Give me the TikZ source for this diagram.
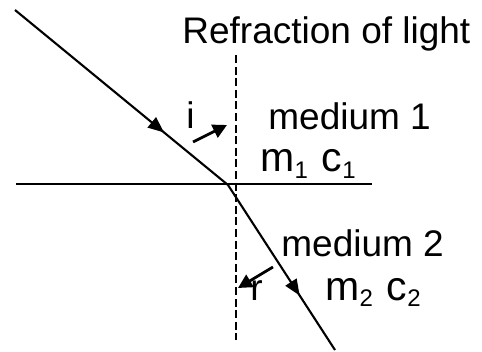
\documentclass[tikz,border=0pt]{standalone}
\usepackage{fontspec}
\setmainfont{Liberation Sans}
\usetikzlibrary{arrows.meta,decorations.markings}

\newcommand{\lowsub}[1]{\raisebox{-0.3ex}{\fontsize{12}{14}\selectfont #1}}

\tikzset{
  ray/.style={line width=1.05pt},
  midarrow/.style={postaction={decorate},
    decoration={markings,mark=at position #1 with {\arrow{Triangle[length=8pt,width=6.5pt]}}}},
  anglearrow/.style={line width=1.4pt,-{Triangle[length=7pt,width=7pt]}},
  txt/.style={anchor=base west,inner sep=0pt,font=\fontsize{18.5}{22}\selectfont},
  props/.style={txt,font=\fontsize{20.5}{24}\selectfont}
}

\begin{document}
\begin{tikzpicture}[x=0.5pt,y=-0.5pt]
    \useasboundingbox (0,0) rectangle (482,352);

    % Title
    \node[txt] (title) at (182,44) {Refraction of light};

    % Boundary between the two media and the normal
    \coordinate (faceL) at (16,184);
    \coordinate (faceR) at (372,184);
    \coordinate (normTop) at (236,55);
    \coordinate (normBot) at (236,340);
    \draw[line width=1.05pt] (faceL) -- (faceR);
    \draw[line width=0.9pt, dash pattern=on 4pt off 1.8pt] (normTop) -- (normBot);

    % Incident and refracted rays
    \coordinate (source) at (15,10);
    \coordinate (hit) at (228,185);
    \coordinate (target) at (335,350);
    \draw[ray, midarrow=0.70] (source) -- (hit);
    \draw[ray, midarrow=0.67] (hit) -- (target);

    % Angle markers
    \coordinate (iFrom) at (193,142);
    \coordinate (iTo) at (227,125);
    \coordinate (rFrom) at (273,267);
    \coordinate (rTo) at (238,288);
    \draw[anglearrow] (iFrom) -- (iTo);
    \draw[anglearrow] (rFrom) -- (rTo);

    % Labels
    \node[txt] (angI) at (186,129) {i};
    \node[txt] (med1) at (268,130) {medium 1};
    \node[props] (prop1) at (260,172) {m\lowsub{1}\hspace{7pt}c\lowsub{1}};
    \node[txt] (med2) at (281,257) {medium 2};
    \node[txt] (angR) at (250,300) {r};
    \node[props] (prop2) at (325,300) {m\lowsub{2}\hspace{7pt}c\lowsub{2}};
\end{tikzpicture}
\end{document}
